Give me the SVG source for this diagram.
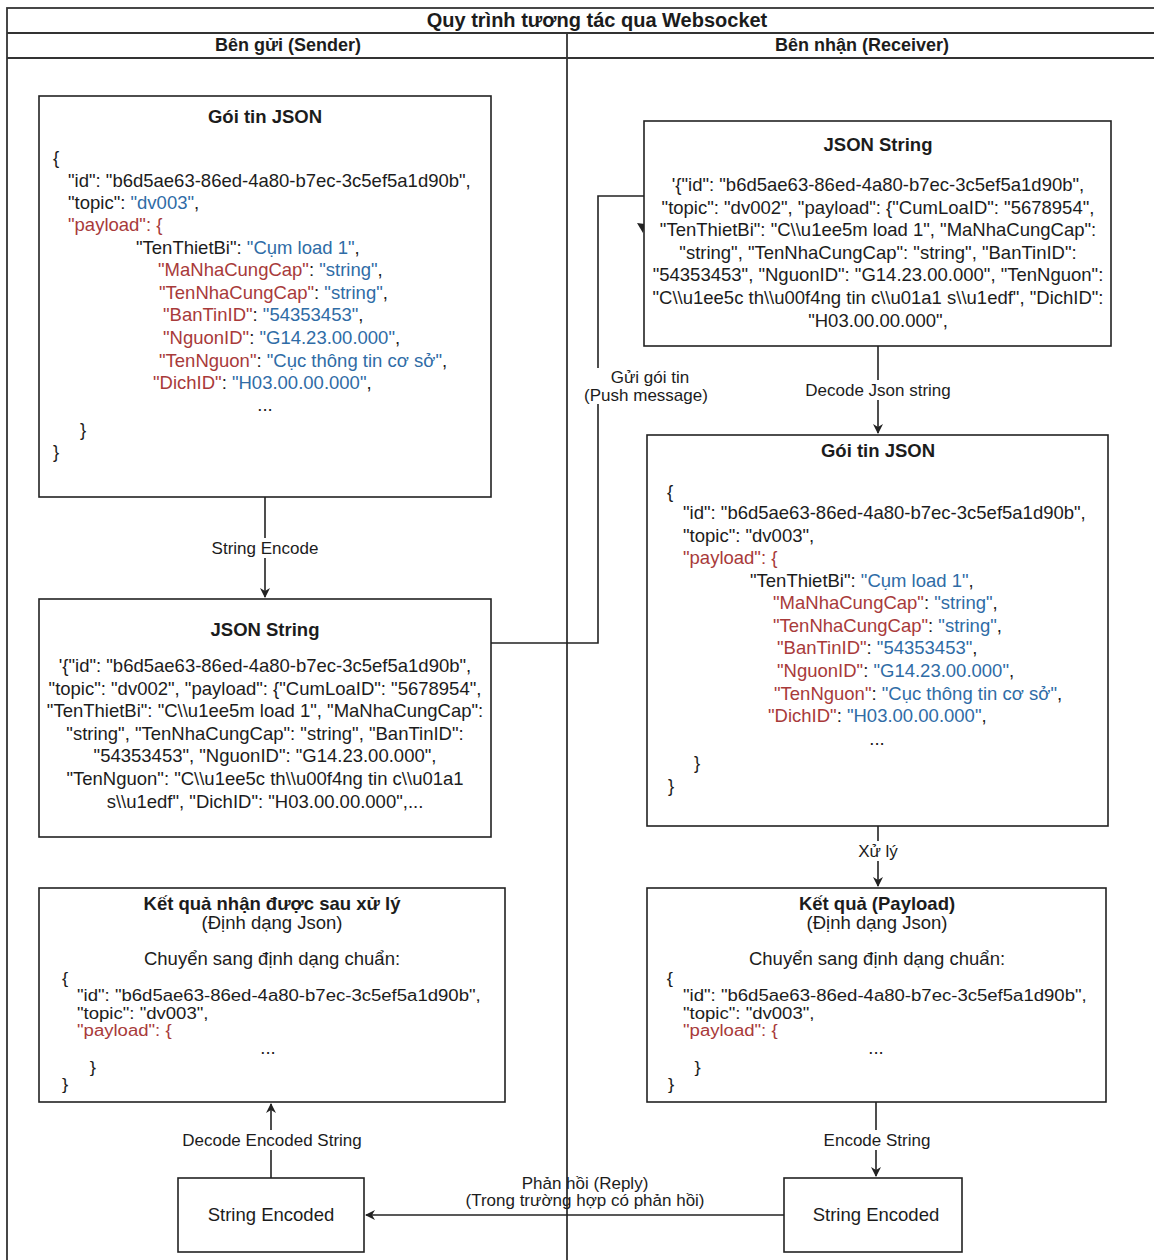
<svg xmlns="http://www.w3.org/2000/svg" width="1154" height="1260" viewBox="0 0 1154 1260">
  <defs>
    <style>
      text { font-family: "Liberation Sans", Arial, Helvetica, sans-serif; fill: #1c1c1c; }
      .code { font-size: 18.5px; }
      .mini { font-size: 16px; }
      .ctr { font-size: 18.5px; text-anchor: middle; }
      .ttl { font-size: 18.5px; font-weight: bold; text-anchor: middle; }
      .hdr { font-size: 18px; font-weight: bold; text-anchor: middle; }
      .big { font-size: 20px; }
      .lbl { font-size: 17px; text-anchor: middle; }
      .k { fill: #a83a3a; }
      .v { fill: #2f6ca6; }
      .box { fill: #ffffff; stroke: #222222; stroke-width: 1.6; }
      .lane { fill: none; stroke: #333333; stroke-width: 1.8; }
      .edge { fill: none; stroke: #222222; stroke-width: 1.6; }
      .bg { fill: #ffffff; }
    </style>
    <marker id="arrow" viewBox="0 0 10 10" refX="9" refY="5" markerWidth="10" markerHeight="10" markerUnits="userSpaceOnUse" orient="auto">
      <path d="M0,0 L10,5 L0,10 L3,5 z" fill="#222222"/>
    </marker>
  </defs>

  <rect x="0" y="0" width="1154" height="1260" fill="#ffffff"/>

  <!-- swimlane frame -->
  <g id="lanes">
    <rect class="lane" x="7" y="8" width="1160" height="1270"/>
    <line class="lane" x1="7" y1="33" x2="1160" y2="33"/>
    <line class="lane" x1="7" y1="58" x2="1160" y2="58"/>
    <line class="lane" x1="567" y1="33" x2="567" y2="1262"/>
    <text class="hdr big" x="597" y="27">Quy trình tương tác qua Websocket</text>
    <text class="hdr" x="288" y="51">Bên gửi (Sender)</text>
    <text class="hdr" x="862" y="51">Bên nhận (Receiver)</text>
  </g>

  <!-- connectors -->
  <g id="connectors">
    <path class="edge" d="M265,497 V597" marker-end="url(#arrow)"/>
    <rect class="bg" x="208" y="538" width="114" height="20"/>
    <text class="lbl" x="265" y="554">String Encode</text>

    <path class="edge" d="M491,643 H598 V196 H644"/>
    <polygon points="637,223 645,224 643,233" fill="#222222"/>
    <rect class="bg" x="584" y="368" width="126" height="36"/>
    <text class="lbl" x="650" y="383">Gửi gói tin</text>
    <text class="lbl" x="646" y="401">(Push message)</text>

    <path class="edge" d="M878,346 V433" marker-end="url(#arrow)"/>
    <rect class="bg" x="806" y="380" width="152" height="20"/>
    <text class="lbl" x="878" y="396">Decode Json string</text>

    <path class="edge" d="M878,826 V886" marker-end="url(#arrow)"/>
    <rect class="bg" x="856" y="841" width="44" height="20"/>
    <text class="lbl" x="878" y="857">Xử lý</text>

    <path class="edge" d="M876,1102 V1176" marker-end="url(#arrow)"/>
    <rect class="bg" x="822" y="1130" width="110" height="20"/>
    <text class="lbl" x="877" y="1146">Encode String</text>

    <path class="edge" d="M784,1215 H366" marker-end="url(#arrow)"/>
    <text class="lbl" x="585" y="1189">Phản hồi (Reply)</text>
    <text class="lbl" x="585" y="1206">(Trong trường hợp có phản hồi)</text>

    <path class="edge" d="M271,1178 V1104" marker-end="url(#arrow)"/>
    <rect class="bg" x="180" y="1130" width="184" height="20"/>
    <text class="lbl" x="272" y="1146">Decode Encoded String</text>
  </g>

  <!-- sender: JSON packet -->
  <g id="sender-json">
    <rect class="box" x="39" y="96" width="452" height="401"/>
    <text class="ttl" x="265" y="123">Gói tin JSON</text>
    <text class="code" x="53" y="164">{</text>
    <text class="code" x="68" y="187">"id": "b6d5ae63-86ed-4a80-b7ec-3c5ef5a1d90b",</text>
    <text class="code" x="68" y="209">"topic": <tspan class="v">"dv003"</tspan>,</text>
    <text class="code k" x="68" y="231">"payload": {</text>
    <text class="code" x="136" y="254">"TenThietBi": <tspan class="v">"Cụm load 1"</tspan>,</text>
    <text class="code" x="158" y="276"><tspan class="k">"MaNhaCungCap"</tspan>: <tspan class="v">"string"</tspan>,</text>
    <text class="code" x="159" y="299"><tspan class="k">"TenNhaCungCap"</tspan>: <tspan class="v">"string"</tspan>,</text>
    <text class="code" x="163" y="321"><tspan class="k">"BanTinID"</tspan>: <tspan class="v">"54353453"</tspan>,</text>
    <text class="code" x="163" y="344"><tspan class="k">"NguonID"</tspan>: <tspan class="v">"G14.23.00.000"</tspan>,</text>
    <text class="code" x="159" y="367"><tspan class="k">"TenNguon"</tspan>: <tspan class="v">"Cục thông tin cơ sở"</tspan>,</text>
    <text class="code" x="153" y="389"><tspan class="k">"DichID"</tspan>: <tspan class="v">"H03.00.00.000"</tspan>,</text>
    <text class="ctr" x="265" y="411">...</text>
    <text class="code" x="80" y="436">}</text>
    <text class="code" x="53" y="458">}</text>
  </g>

  <!-- sender: encoded JSON string -->
  <g id="sender-string">
    <rect class="box" x="39" y="599" width="452" height="238"/>
    <text class="ttl" x="265" y="636">JSON String</text>
    <text class="ctr" x="265" y="672">'{"id": "b6d5ae63-86ed-4a80-b7ec-3c5ef5a1d90b",</text>
    <text class="ctr" x="265" y="695">"topic": "dv002", "payload": {"CumLoaID": "5678954",</text>
    <text class="ctr" x="265" y="717">"TenThietBi": "C\\u1ee5m load 1", "MaNhaCungCap":</text>
    <text class="ctr" x="265" y="740">"string", "TenNhaCungCap": "string", "BanTinID":</text>
    <text class="ctr" x="265" y="762">"54353453", "NguonID": "G14.23.00.000",</text>
    <text class="ctr" x="265" y="785">"TenNguon": "C\\u1ee5c th\\u00f4ng tin c\\u01a1</text>
    <text class="ctr" x="265" y="808">s\\u1edf", "DichID": "H03.00.00.000",...</text>
  </g>

  <!-- sender: decoded result -->
  <g id="sender-result">
    <rect class="box" x="39" y="888" width="466" height="214"/>
    <text class="ttl" x="272" y="910">Kết quả nhận được sau xử lý</text>
    <text class="ctr" x="272" y="929">(Định dạng Json)</text>
    <text class="ctr" x="272" y="965">Chuyển sang định dạng chuẩn:</text>
    <!-- compact code block, widened to the box's text width -->
    <g transform="translate(77 0) scale(1.16 1)">
      <text class="mini" x="-13" y="984">{</text>
      <text class="mini" x="0" y="1001">"id": "b6d5ae63-86ed-4a80-b7ec-3c5ef5a1d90b",</text>
      <text class="mini" x="0" y="1019">"topic": "dv003",</text>
      <text class="mini k" x="0" y="1036">"payload": {</text>
      <text class="mini" x="11" y="1073">}</text>
      <text class="mini" x="-13" y="1090">}</text>
    </g>
    <text class="ctr" x="268" y="1054">...</text>
  </g>

  <!-- sender: encoded reply -->
  <g id="sender-encoded">
    <rect class="box" x="178" y="1178" width="186" height="74"/>
    <text class="ctr" x="271" y="1221">String Encoded</text>
  </g>

  <!-- receiver: JSON string -->
  <g id="receiver-string">
    <rect class="box" x="644" y="121" width="467" height="225"/>
    <text class="ttl" x="878" y="151">JSON String</text>
    <text class="ctr" x="878" y="191">'{"id": "b6d5ae63-86ed-4a80-b7ec-3c5ef5a1d90b",</text>
    <text class="ctr" x="878" y="214">"topic": "dv002", "payload": {"CumLoaID": "5678954",</text>
    <text class="ctr" x="878" y="236">"TenThietBi": "C\\u1ee5m load 1", "MaNhaCungCap":</text>
    <text class="ctr" x="878" y="259">"string", "TenNhaCungCap": "string", "BanTinID":</text>
    <text class="ctr" x="878" y="281">"54353453", "NguonID": "G14.23.00.000", "TenNguon":</text>
    <text class="ctr" x="878" y="304">"C\\u1ee5c th\\u00f4ng tin c\\u01a1 s\\u1edf", "DichID":</text>
    <text class="ctr" x="878" y="327">"H03.00.00.000",</text>
  </g>

  <!-- receiver: decoded JSON packet -->
  <g id="receiver-json">
    <rect class="box" x="647" y="435" width="461" height="391"/>
    <text class="ttl" x="878" y="457">Gói tin JSON</text>
    <text class="code" x="667" y="498">{</text>
    <text class="code" x="683" y="519">"id": "b6d5ae63-86ed-4a80-b7ec-3c5ef5a1d90b",</text>
    <text class="code" x="683" y="542">"topic": "dv003",</text>
    <text class="code k" x="683" y="564">"payload": {</text>
    <text class="code" x="750" y="587">"TenThietBi": <tspan class="v">"Cụm load 1"</tspan>,</text>
    <text class="code" x="773" y="609"><tspan class="k">"MaNhaCungCap"</tspan>: <tspan class="v">"string"</tspan>,</text>
    <text class="code" x="773" y="632"><tspan class="k">"TenNhaCungCap"</tspan>: <tspan class="v">"string"</tspan>,</text>
    <text class="code" x="777" y="654"><tspan class="k">"BanTinID"</tspan>: <tspan class="v">"54353453"</tspan>,</text>
    <text class="code" x="777" y="677"><tspan class="k">"NguonID"</tspan>: <tspan class="v">"G14.23.00.000"</tspan>,</text>
    <text class="code" x="774" y="700"><tspan class="k">"TenNguon"</tspan>: <tspan class="v">"Cục thông tin cơ sở"</tspan>,</text>
    <text class="code" x="768" y="722"><tspan class="k">"DichID"</tspan>: <tspan class="v">"H03.00.00.000"</tspan>,</text>
    <text class="ctr" x="877" y="745">...</text>
    <text class="code" x="694" y="769">}</text>
    <text class="code" x="668" y="792">}</text>
  </g>

  <!-- receiver: processed payload -->
  <g id="receiver-result">
    <rect class="box" x="647" y="888" width="459" height="214"/>
    <text class="ttl" x="877" y="910">Kết quả (Payload)</text>
    <text class="ctr" x="877" y="929">(Định dạng Json)</text>
    <text class="ctr" x="877" y="965">Chuyển sang định dạng chuẩn:</text>
    <!-- compact code block, widened to the box's text width -->
    <g transform="translate(683 0) scale(1.16 1)">
      <text class="mini" x="-14" y="984">{</text>
      <text class="mini" x="0" y="1001">"id": "b6d5ae63-86ed-4a80-b7ec-3c5ef5a1d90b",</text>
      <text class="mini" x="0" y="1019">"topic": "dv003",</text>
      <text class="mini k" x="0" y="1036">"payload": {</text>
      <text class="mini" x="10" y="1073">}</text>
      <text class="mini" x="-13" y="1090">}</text>
    </g>
    <text class="ctr" x="876" y="1054">...</text>
  </g>

  <!-- receiver: encoded reply -->
  <g id="receiver-encoded">
    <rect class="box" x="784" y="1178" width="178" height="74"/>
    <text class="ctr" x="876" y="1221">String Encoded</text>
  </g>
</svg>
